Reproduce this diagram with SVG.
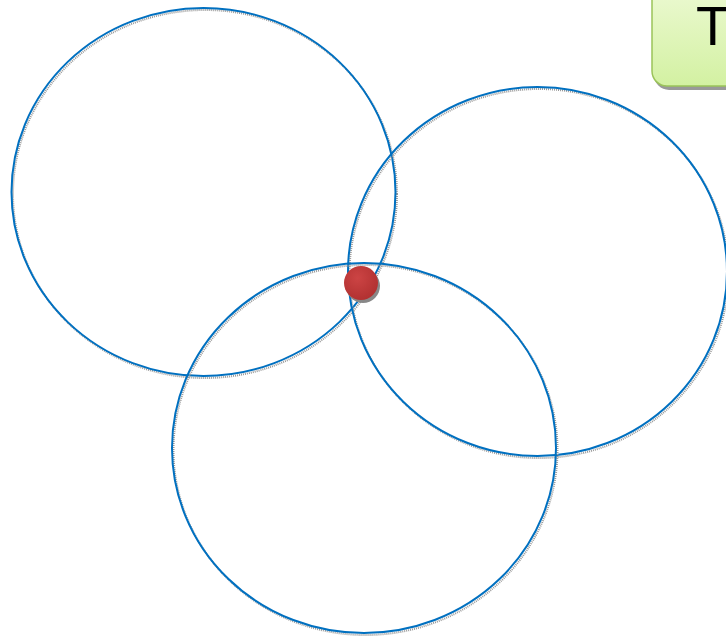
<svg xmlns="http://www.w3.org/2000/svg" width="726" height="637" viewBox="0 0 726 637">
<style>
.c{fill:none;stroke:#0070c0;stroke-width:2}
.s{fill:none;stroke:#999;stroke-width:2;stroke-dasharray:1 1}
</style>
<defs>
<linearGradient id="g" x1="0" y1="0" x2="0" y2="1"><stop offset="0" stop-color="#eefad6"/><stop offset="1" stop-color="#d3f1a2"/></linearGradient>
<radialGradient id="r" cx="0.4" cy="0.35" r="0.7"><stop offset="0" stop-color="#cc4444"/><stop offset="1" stop-color="#b03030"/></radialGradient>
</defs>
<g id="circle1"><ellipse class="s" cx="205" cy="194" rx="192" ry="184"/><ellipse class="c" cx="203.5" cy="192" rx="192" ry="184"/></g>
<g id="circle2"><ellipse class="s" cx="539" cy="273.5" rx="189.5" ry="184.5"/><ellipse class="c" cx="537.5" cy="271.5" rx="189.5" ry="184.5"/></g>
<g id="circle3"><ellipse class="s" cx="365.5" cy="450" rx="192" ry="185"/><ellipse class="c" cx="364" cy="448" rx="192" ry="185"/></g>
<g id="dot"><circle cx="363" cy="286" r="17" fill="#888"/><circle cx="361" cy="283" r="17" fill="url(#r)"/></g>
<g id="box"><rect x="654" y="-20" width="90" height="110" rx="15" fill="#999"/><rect x="652" y="-22" width="90" height="108" rx="15" fill="url(#g)" stroke="#9bc35a" stroke-width="1.5"/><text x="696" y="45" font-family="Liberation Sans, sans-serif" font-size="55" fill="#000">T</text></g>
</svg>
